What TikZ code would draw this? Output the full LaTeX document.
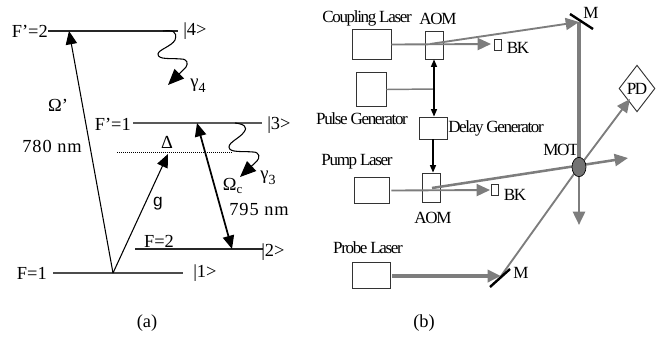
\documentclass[tikz,border=0pt]{standalone}
\usepackage{fontspec}
\setmainfont{Liberation Serif}
\newfontfamily\tightfont[LetterSpace=-8]{Liberation Serif}
\newfontfamily\widefont[LetterSpace=5]{Liberation Serif}
\newfontfamily\gfont{Liberation Sans}
\usetikzlibrary{arrows.meta,shapes.geometric}
\definecolor{beamgray}{RGB}{125,125,125}
\tikzset{
	lbl/.style={inner sep=0pt, font=\fontsize{13.8}{15}\selectfont},
	widelbl/.style={inner sep=0pt, font=\fontsize{13.8}{15}\selectfont\widefont},
	tlbl/.style={inner sep=0pt, font=\fontsize{12.8}{15}\selectfont\tightfont},
	level/.style={line width=1pt, draw=black!85},
	bigtip/.style={-{Triangle[length=10pt,width=8.5pt]}},
	wavetip/.style={-{Triangle[length=12pt,width=10pt]}},
	bothtip/.style={{Triangle[length=10pt,width=8.5pt]}-{Triangle[length=10pt,width=8.5pt]}},
	smalltip/.style={-{Triangle[length=5.5pt,width=4.5pt]}},
	smallboth/.style={{Triangle[length=5.5pt,width=4.5pt]}-{Triangle[length=5.5pt,width=4.5pt]}},
	tran/.style={bigtip, line width=0.8pt},
	box/.style={draw=black!80, line width=0.7pt, inner sep=0pt},
	beam/.style={draw=beamgray, line width=1.4pt, -{Triangle[length=10pt,width=9pt]}},
	thickbeam/.style={draw=beamgray, line width=2.5pt, -{Triangle[length=10pt,width=9pt]}},
	mirror/.style={draw=black, line width=1.8pt},
	sig/.style={line width=0.8pt}
}
\newcommand{\subtext}[2]{{\fontsize{14}{15}\selectfont #1}\raisebox{-4pt}{\fontsize{10.5}{12}\selectfont #2}}
\begin{document}
\begin{tikzpicture}[x=0.75pt, y=-0.75pt]
	\useasboundingbox (0,0) rectangle (670,339);

	\coordinate (top4l) at (48,31);
	\coordinate (top4r) at (178,31);
	\coordinate (top3l) at (133,123);
	\coordinate (top3r) at (262,123);
	\coordinate (low2l) at (135,249);
	\coordinate (low2r) at (263,249);
	\coordinate (low1l) at (53,273);
	\coordinate (low1r) at (183,273);
	\coordinate (virtl) at (117,152);
	\coordinate (virtr) at (232,152);
	\coordinate (pump) at (113,273);
	\coordinate (pumpa) at (69,31);
	\coordinate (pumpb) at (168,154);
	\coordinate (cplu) at (197,123);
	\coordinate (cpld) at (232,249);
	\coordinate (wav4) at (163,31);
	\coordinate (wav3) at (235,123);
	\coordinate (wav4e) at (168,85);
	\coordinate (wav3e) at (240,177);

	\draw[level] (top4l) -- (top4r);
	\draw[level, draw=black!65] (top3l) -- (top3r);
	\draw[level] (low2l) -- (low2r);
	\draw[level, draw=black!70] (low1l) -- (low1r);
	\draw[densely dotted, line width=0.5pt] (virtl) -- (virtr);
	\draw[tran] (pump) -- (pumpa);
	\draw[tran] (pump) -- (pumpb);
	\draw[bothtip, line width=1.3pt] (cplu) -- (cpld);
	\draw[wavetip, sig] (wav4) .. controls (172,30) and (178,31) .. (175,40) .. controls (172,46) and (158,50) .. (158,54) .. controls (158,60) and (170,58) .. (181,59) .. controls (188,59) and (188,64) .. (186,67) -- (wav4e);
	\draw[wavetip, sig] (wav3) .. controls (244,124) and (248,127) .. (244,132) .. controls (240,138) and (229,142) .. (229,147) .. controls (229,153) and (243,151) .. (253,152) .. controls (260,152) and (260,158) .. (257,161) -- (wav3e);

	\node[lbl, anchor=east] (f2up) at (48,31) {F’=2};
	\node[lbl, anchor=west] (ket4) at (183,31) {|4>};
	\node[lbl, anchor=east] (f1up) at (131,124) {F’=1};
	\node[lbl, anchor=west] (ket3) at (267,125) {|3>};
	\node[lbl, anchor=east] (f1low) at (47,273) {F=1};
	\node[lbl, anchor=west] (ket1) at (193,273) {|1>};
	\node[lbl] (f2low) at (159,241) {F=2};
	\node[lbl, anchor=west] (ket2) at (261,252) {|2>};
	\node[lbl] (omp) at (58,105) {Ω’};
	\node[widelbl] (wl780) at (52,146) {780 nm};
	\node[lbl] (det) at (167,142) {Δ};
	\node[lbl, font=\fontsize{13}{15}\selectfont\gfont] (gcoup) at (158,204) {g};
	\node[lbl] (omc) at (233,186) {Ω\textsubscript{c}};
	\node[widelbl] (wl795) at (259,209) {795 nm};
	\node[lbl] (gam4) at (198,86) {\subtext{γ}{4}};
	\node[lbl] (gam3) at (268,178) {\subtext{γ}{3}};
	\node[lbl] (capa) at (147,323) {(a)};
	\node[lbl] (capb) at (424,323) {(b)};

	\node[box, minimum width=29.25pt, minimum height=22pt] (coupling) at (371.5,44.5) {};
	\node[box, minimum width=13.5pt, minimum height=21pt] (aoma) at (434,45) {};
	\node[box, minimum width=22.5pt, minimum height=25pt] (pulse) at (371,89.5) {};
	\node[box, minimum width=21pt, minimum height=16.5pt] (delay) at (433,128) {};
	\node[box, minimum width=26.25pt, minimum height=20pt] (pumplas) at (371.5,190.5) {};
	\node[box, minimum width=13.5pt, minimum height=21.75pt] (aomb) at (431,187.5) {};
	\node[box, minimum width=28.5pt, minimum height=19.5pt] (probe) at (371,275) {};
	\node[box, minimum width=5.25pt, minimum height=8.25pt] (bka) at (497.5,44.5) {};
	\node[box, minimum width=5.25pt, minimum height=8.25pt] (bkb) at (495,190) {};
	\node[draw=black!80, line width=0.7pt, diamond, aspect=0.78, minimum width=27pt, minimum height=35pt, inner sep=0pt] (pd) at (637,88.5) {};

	\node[tlbl] at (367,18) (tcoupling) {Coupling Laser};
	\node[tlbl] at (438,19) (taoma) {AOM};
	\node[tlbl] at (518,48) (tbka) {BK};
	\node[tlbl] at (362,119) (tpulse) {Pulse Generator};
	\node[tlbl] at (496,128) (tdelay) {Delay Generator};
	\node[tlbl] at (357,162) (tpump) {Pump Laser};
	\node[tlbl] at (433,218) (taomb) {AOM};
	\node[tlbl] at (515,195) (tbkb) {BK};
	\node[tlbl] at (368,248) (tprobe) {Probe Laser};
	\node[tlbl] at (561,150) (tmot) {MOT};
	\node[tlbl] at (591,13) (tma) {M};
	\node[tlbl] at (521,273) (tmb) {M};
	\node[tlbl] at (pd) (tpd) {PD};

	\coordinate (ma1) at (570,14);
	\coordinate (ma2) at (593,29);
	\coordinate (mb1) at (490,287);
	\coordinate (mb2) at (510,269);
	\coordinate (mahit) at (579,22);
	\coordinate (mbhit) at (501,276);
	\coordinate (mot) at (579,167);
	\coordinate (aomaout) at (430,44);
	\coordinate (aombout) at (432,188);
	\coordinate (pumpend) at (628,158);
	\coordinate (downend) at (579,225);
	\coordinate (pdend) at (630,99);
	\coordinate (bkaend) at (491,44);
	\coordinate (bkbend) at (490,190);
	\coordinate (junc) at (434,89);

	\draw[beam] (coupling.east) -- (bkaend);
	\draw[beam] (aomaout) -- (mahit);
	\draw[thickbeam, -] (mahit) -- (mot);
	\draw[beam, line width=1.9pt] (mot) -- (downend);
	\draw[beam] (pumplas.east) ++(2,0) -- (bkbend);
	\draw[beam, line width=1.9pt] (aombout) -- (pumpend);
	\draw[thickbeam] (probe.east) ++(2,1) -- (mbhit);
	\draw[beam, -] (mbhit) -- (mot);
	\draw[beam] (mot) -- (pdend);
	\draw[beamgray, line width=1.1pt] (pulse.east) -- (junc);
	\draw[smallboth, line width=0.8pt] (junc |- aoma.south) -- (junc |- delay.north);
	\draw[smalltip, line width=0.8pt] (delay.south) -- (delay.south |- aomb.north);
	\draw[mirror] (ma1) -- (ma2);
	\draw[mirror] (mb1) -- (mb2);
	\node[draw=black, line width=0.5pt, fill=black!55, ellipse, minimum width=10.5pt, minimum height=14.5pt, inner sep=0pt] (motball) at (mot) {};
\end{tikzpicture}
\end{document}
